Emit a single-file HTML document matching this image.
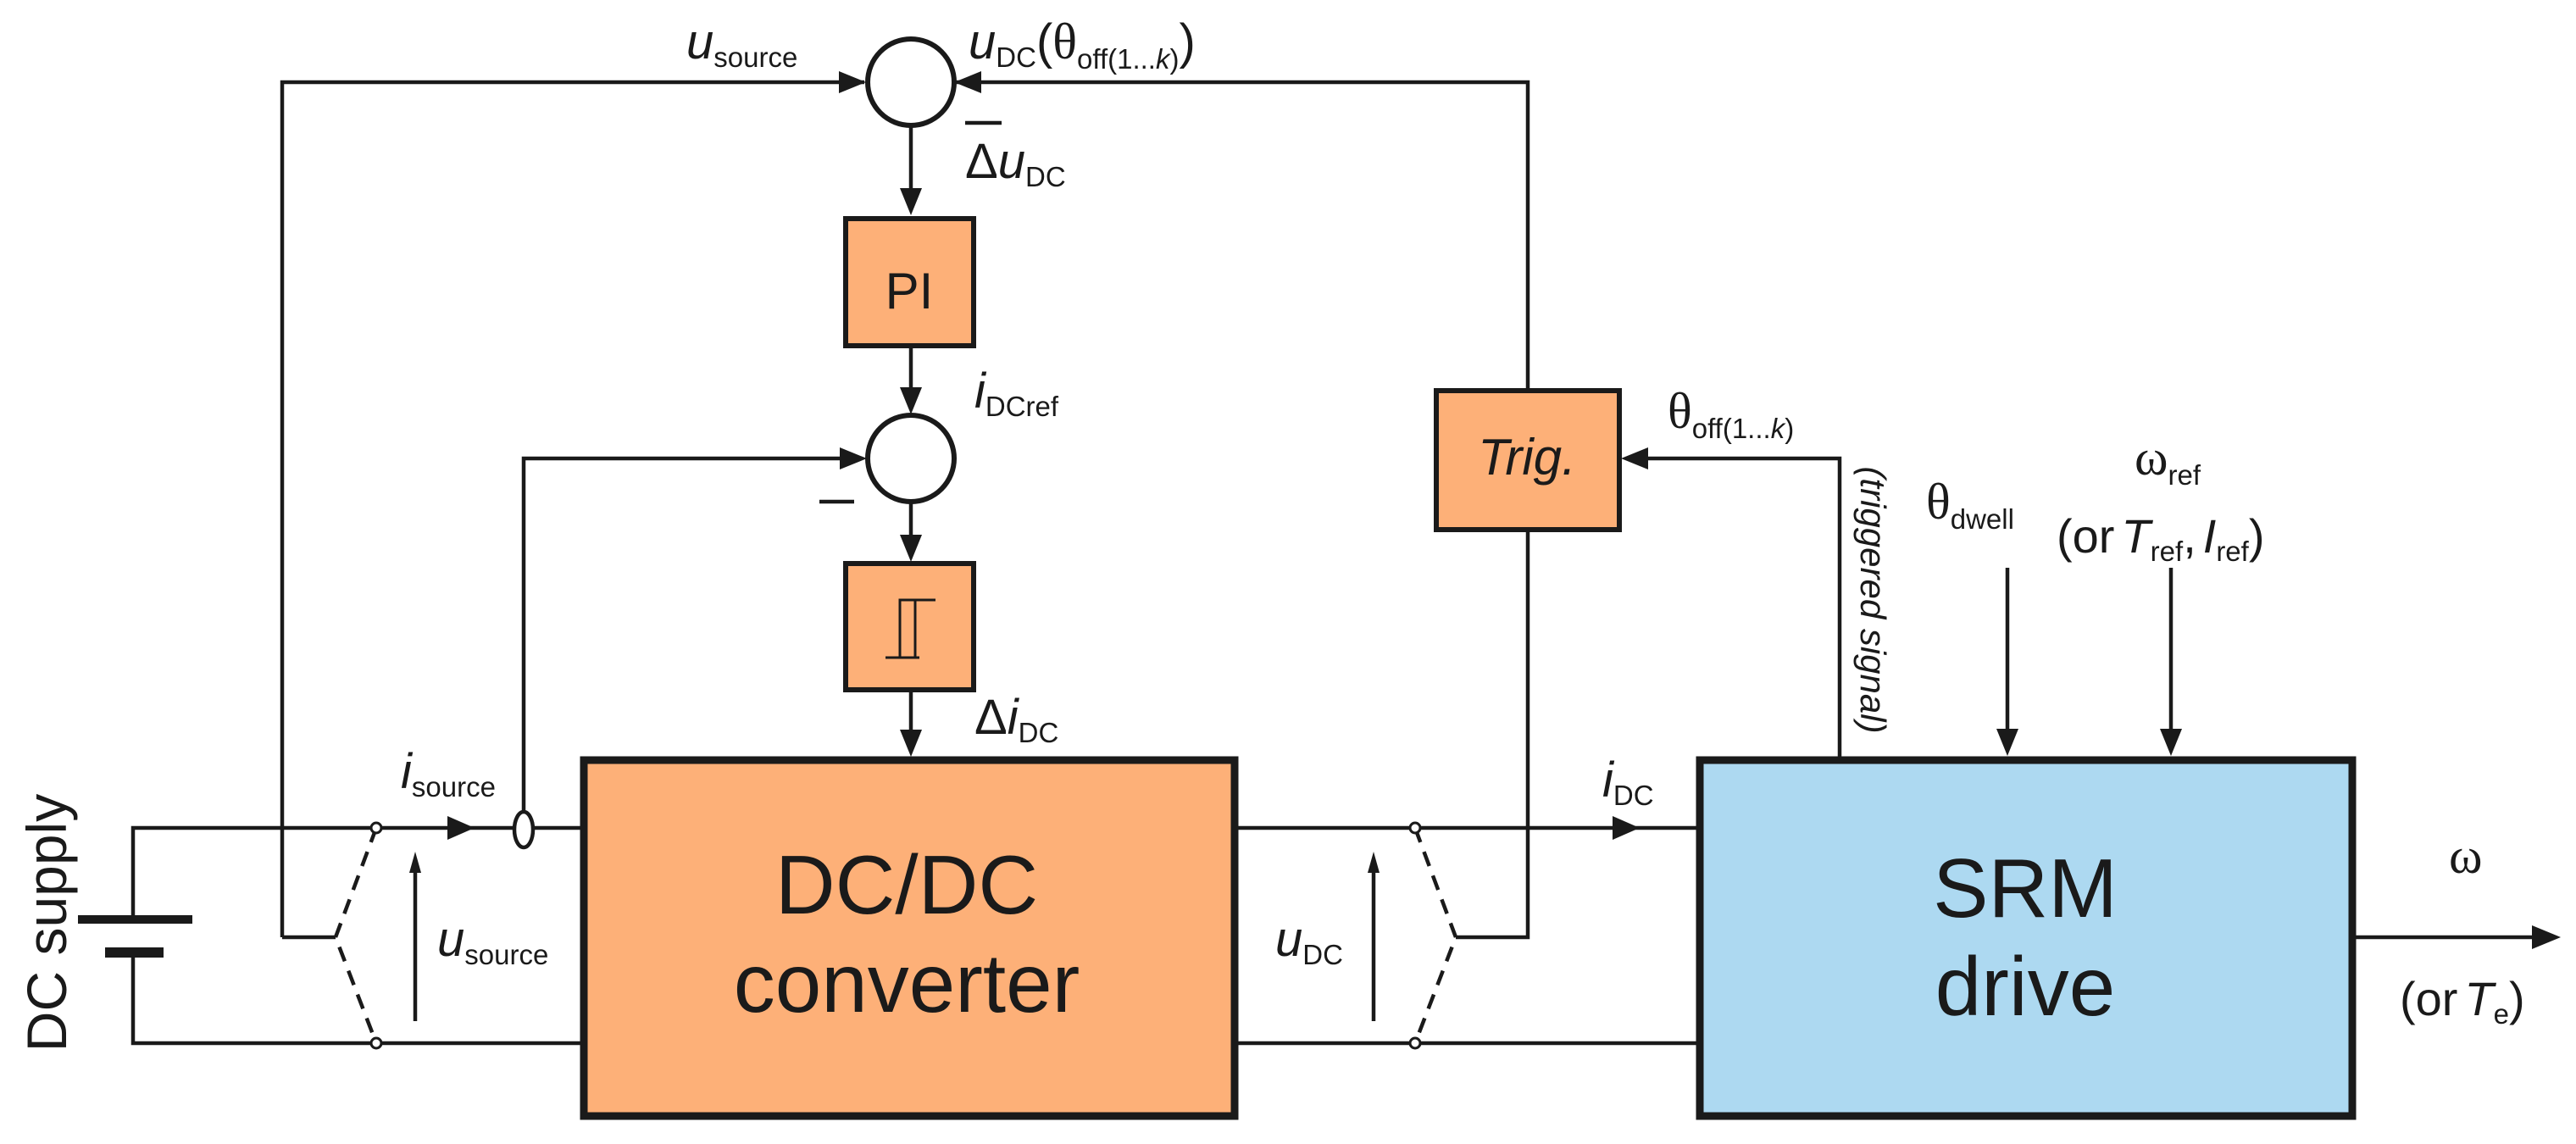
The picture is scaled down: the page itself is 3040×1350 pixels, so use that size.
<!DOCTYPE html>
<html><head><meta charset="utf-8"><style>
html,body{margin:0;padding:0;background:#fff;}
svg{display:block;}
text{font-family:"Liberation Sans",Arial,sans-serif;fill:#1a1a1a;}
.g{font-family:"Liberation Serif",serif;}
</style></head><body>
<svg width="3040" height="1350" viewBox="0 0 3040 1350" xmlns="http://www.w3.org/2000/svg">
<g stroke="#1a1a1a" stroke-width="4.5" fill="none">
<polyline points="333,1106 333,97 1020,97"/>
<polyline points="1128,97 1803,97 1803,460"/>
<circle cx="1075" cy="97" r="51" stroke-width="6" fill="#fff"/>
<line x1="1075" y1="148" x2="1075" y2="225"/>
<line x1="1075" y1="408" x2="1075" y2="462"/>
<circle cx="1075" cy="541" r="51" stroke-width="6" fill="#fff"/>
<polyline points="618,958 618,541 1000,541"/>
<line x1="1075" y1="592" x2="1075" y2="638"/>
<line x1="1075" y1="814" x2="1075" y2="868"/>
<line x1="1139" y1="145" x2="1182" y2="145"/>
<line x1="967" y1="592" x2="1008" y2="592"/>
<polyline points="157,1085 157,977 685,977"/>
<polyline points="157,1124 157,1231 685,1231"/>
<line x1="92" y1="1085" x2="227" y2="1085" stroke-width="10"/>
<line x1="124" y1="1124" x2="193" y2="1124" stroke-width="12"/>
<polyline points="333,1106 396,1106"/>
<polyline points="444,977 396,1106 444,1231" stroke-dasharray="18,12"/>
<line x1="490" y1="1205" x2="490" y2="1030"/>
<ellipse cx="618" cy="979" rx="11" ry="21" fill="#fff"/>
<line x1="1457" y1="977" x2="2002" y2="977"/>
<line x1="1457" y1="1231" x2="2002" y2="1231"/>
<polyline points="1670,977 1718,1106 1670,1231" stroke-dasharray="18,12"/>
<polyline points="1718,1106 1803,1106 1803,625"/>
<line x1="1621" y1="1205" x2="1621" y2="1030"/>
<polyline points="2171,893 2171,541 1940,541"/>
<line x1="2369" y1="670" x2="2369" y2="860"/>
<line x1="2562" y1="670" x2="2562" y2="860"/>
<line x1="2776" y1="1106" x2="2990" y2="1106"/>
<circle cx="444" cy="977" r="6" stroke-width="3" fill="#fff"/>
<circle cx="444" cy="1231" r="6" stroke-width="3" fill="#fff"/>
<circle cx="1670" cy="977" r="6" stroke-width="3" fill="#fff"/>
<circle cx="1670" cy="1231" r="6" stroke-width="3" fill="#fff"/>
<rect x="998" y="258" width="151" height="150" fill="#fdb078" stroke-width="6"/>
<rect x="998" y="665" width="151" height="149" fill="#fdb078" stroke-width="6"/>
<rect x="1695" y="461" width="216" height="164" fill="#fdb078" stroke-width="6"/>
<rect x="689" y="897" width="768" height="420" fill="#fdb078" stroke-width="9"/>
<rect x="2006" y="897" width="770" height="420" fill="#add9f1" stroke-width="9"/>
<polyline points="1045,776 1085,776" stroke-width="3"/>
<polyline points="1062,776 1062,708 1080,708 1080,776" stroke-width="3"/>
<polyline points="1068,708 1104,708" stroke-width="3"/>
</g>
<g fill="#1a1a1a">
<polygon points="1022,97 990,84 990,110"/>
<polygon points="1126,97 1158,84 1158,110"/>
<polygon points="1075,254 1062,222 1088,222"/>
<polygon points="1075,489 1062,457 1088,457"/>
<polygon points="1023,541 991,528 991,554"/>
<polygon points="1075,663 1062,631 1088,631"/>
<polygon points="1075,893 1062,861 1088,861"/>
<polygon points="560,977 528,963 528,991"/>
<polygon points="1935,977 1903,963 1903,991"/>
<polygon points="490,1005 483,1030 497,1030"/>
<polygon points="1621,1005 1614,1030 1628,1030"/>
<polygon points="1913,541 1945,528 1945,554"/>
<polygon points="2369,892 2356,860 2382,860"/>
<polygon points="2562,892 2549,860 2575,860"/>
<polygon points="3022,1106 2988,1092 2988,1120"/>
</g>
<text x="810" y="69" font-size="58"><tspan font-style="italic">u</tspan><tspan font-size="33" dy="10">source</tspan></text>
<text x="1143" y="69" font-size="58"><tspan font-style="italic">u</tspan><tspan font-size="33" dy="10">DC</tspan><tspan dy="-10">(</tspan><tspan class="g" font-size="60">θ</tspan><tspan font-size="33" dy="12">off(1...<tspan font-style="italic">k</tspan>)</tspan><tspan dy="-12">)</tspan></text>
<text x="1139" y="210" font-size="58">Δ<tspan font-style="italic">u</tspan><tspan font-size="33" dy="10">DC</tspan></text>
<text x="1073" y="364" font-size="60" text-anchor="middle">PI</text>
<text x="1150" y="481" font-size="58"><tspan font-style="italic">i</tspan><tspan font-size="33" dy="10">DCref</tspan></text>
<text x="1150" y="866" font-size="58">Δ<tspan font-style="italic">i</tspan><tspan font-size="33" dy="10">DC</tspan></text>
<text x="1070" y="1078" font-size="98" text-anchor="middle">DC/DC</text>
<text x="1070" y="1194" font-size="98" text-anchor="middle">converter</text>
<text x="2390" y="1082" font-size="98" text-anchor="middle">SRM</text>
<text x="2390" y="1198" font-size="98" text-anchor="middle">drive</text>
<text x="1802" y="560" font-size="60" font-style="italic" text-anchor="middle">Trig.</text>
<text x="473" y="930" font-size="58"><tspan font-style="italic">i</tspan><tspan font-size="33" dy="10">source</tspan></text>
<text x="516" y="1128" font-size="58"><tspan font-style="italic">u</tspan><tspan font-size="33" dy="10">source</tspan></text>
<text x="1505" y="1128" font-size="58"><tspan font-style="italic">u</tspan><tspan font-size="33" dy="10">DC</tspan></text>
<text x="1891" y="940" font-size="58"><tspan font-style="italic">i</tspan><tspan font-size="33" dy="10">DC</tspan></text>
<text x="1968" y="505" font-size="60"><tspan class="g">θ</tspan><tspan font-size="33" dy="12">off(1...<tspan font-style="italic">k</tspan>)</tspan></text>
<text x="2273" y="612" font-size="60"><tspan class="g">θ</tspan><tspan font-size="33" dy="12">dwell</tspan></text>
<text x="2519" y="560" font-size="60"><tspan class="g">ω</tspan><tspan font-size="33" dy="12">ref</tspan></text>
<text x="2427" y="652" font-size="56">(or<tspan font-style="italic" dx="8">T</tspan><tspan font-size="33" dy="10">ref</tspan><tspan dy="-10">,</tspan><tspan font-style="italic" dx="8">I</tspan><tspan font-size="33" dy="10">ref</tspan><tspan dy="-10">)</tspan></text>
<text x="2890" y="1030" font-size="60" class="g">ω</text>
<text x="2832" y="1198" font-size="56">(or<tspan font-style="italic" dx="8">T</tspan><tspan font-size="33" dy="10">e</tspan><tspan dy="-10">)</tspan></text>
<text transform="translate(2196,708) rotate(90)" font-size="42" font-style="italic" text-anchor="middle">(triggered signal)</text>
<text transform="translate(78,1089) rotate(-90)" font-size="66" text-anchor="middle">DC supply</text>
</svg>
</body></html>
